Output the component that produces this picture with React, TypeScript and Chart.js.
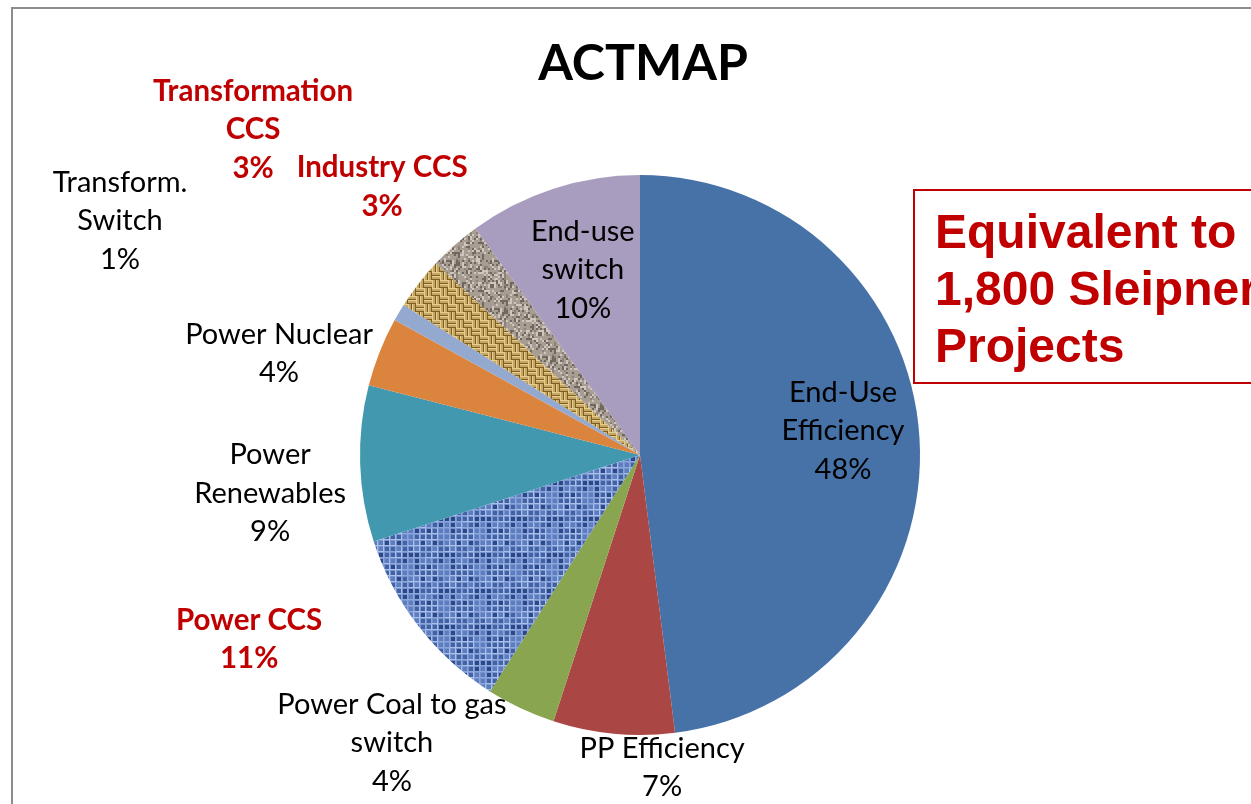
import React, { useEffect, useRef } from "react";
import { Chart, registerables } from "chart.js";

Chart.register(...registerables);

// ---- data ----
const categories = [
  "End-Use Efficiency",
  "PP Efficiency",
  "Power Coal to gas switch",
  "Power CCS",
  "Power Renewables",
  "Power Nuclear",
  "Transform. Switch",
  "Transformation CCS",
  "Industry CCS",
  "End-use switch",
];
const shares = [48, 7, 4, 11, 9, 4, 1, 3, 3, 10];
const labelLines = [
  ["End-Use", "Efficiency"],
  ["PP Efficiency"],
  ["Power Coal to gas", "switch"],
  ["Power CCS"],
  ["Power", "Renewables"],
  ["Power Nuclear"],
  ["Transform.", "Switch"],
  ["Transformation", "CCS"],
  ["Industry CCS"],
  ["End-use", "switch"],
];
const highlighted = [false, false, false, true, false, false, false, true, true, false];
const titleText = "ACTMAP";
const noteLines = ["Equivalent to", "1,800 Sleipner", "Projects"];

// label anchor (center of text block) relative to pie center, in radius units
const labelAnchors: [number, number][] = [
  [0.725, -0.086],
  [0.079, 1.116],
  [-0.886, 1.029],
  [-1.396, 0.659],
  [-1.321, 0.1375],
  [-1.289, -0.3625],
  [-1.857, -0.836],
  [-1.382, -1.161],
  [-0.921, -0.957],
  [-0.204, -0.661],
];

function makeTile(w: number, h: number, draw: (c: CanvasRenderingContext2D) => void): CanvasPattern | string {
  const cv = document.createElement("canvas");
  cv.width = w;
  cv.height = h;
  const c = cv.getContext("2d")!;
  draw(c);
  const p = c.createPattern(cv, "repeat");
  return p || "#888";
}

function hash(x: number, y: number, s: number) {
  const v = Math.sin(x * 12.9898 + y * 78.233 + s * 37.719) * 43758.5453;
  return v - Math.floor(v);
}

function denim() {
  return makeTile(36, 36, (c) => {
    c.fillStyle = "#7893CE";
    c.fillRect(0, 0, 36, 36);
    for (let gx = 0; gx < 6; gx++) {
      for (let gy = 0; gy < 6; gy++) {
        const h = hash(gx, gy, 1);
        c.fillStyle = h < 0.4 ? "#2C4886" : h < 0.75 ? "#4262A3" : "#5D7EBE";
        c.fillRect(gx * 6 + 1, gy * 6 + 1, 4, 4);
        const h2 = hash(gx, gy, 2);
        c.fillStyle = h2 > 0.5 ? "#A9C0EC" : "#8BA6DC";
        c.fillRect(gx * 6, gy * 6 + 5, 6, 1);
        c.fillRect(gx * 6 + 5, gy * 6, 1, 5);
      }
    }
  });
}

function weave() {
  return makeTile(16, 16, (c) => {
    c.fillStyle = "#E6CD90";
    c.fillRect(0, 0, 16, 16);
    for (let bx = 0; bx < 2; bx++) {
      for (let by = 0; by < 2; by++) {
        const x0 = bx * 8;
        const y0 = by * 8;
        const horiz = (bx + by) % 2 === 0;
        c.fillStyle = "#C7A660";
        c.strokeStyle = "#7E5E28";
        c.lineWidth = 1;
        for (let k = 0; k < 2; k++) {
          if (horiz) {
            c.fillRect(x0, y0 + k * 4 + 1, 8, 2);
            c.beginPath();
            c.moveTo(x0, y0 + k * 4 + 3.5);
            c.lineTo(x0 + 8, y0 + k * 4 + 3.5);
            c.stroke();
          } else {
            c.fillRect(x0 + k * 4 + 1, y0, 2, 8);
            c.beginPath();
            c.moveTo(x0 + k * 4 + 3.5, y0);
            c.lineTo(x0 + k * 4 + 3.5, y0 + 8);
            c.stroke();
          }
        }
      }
    }
  });
}

function granite() {
  return makeTile(48, 48, (c) => {
    c.fillStyle = "#A89D92";
    c.fillRect(0, 0, 48, 48);
    for (let x = 0; x < 48; x += 2) {
      for (let y = 0; y < 48; y += 2) {
        const h = hash(x, y, 3);
        if (h < 0.2) {
          c.fillStyle = "#70675E";
          c.fillRect(x, y, 2, 2);
        } else if (h < 0.3) {
          c.fillStyle = "#8C8278";
          c.fillRect(x, y, 2, 2);
        } else if (h > 0.78) {
          c.fillStyle = "#CFC7BD";
          c.fillRect(x, y, 2, 2);
        }
      }
    }
  });
}

const FONT = "Lato, 'Noto Sans', sans-serif";

export default function App() {
  const ref = useRef<HTMLCanvasElement | null>(null);

  useEffect(() => {
    const canvas = ref.current;
    if (!canvas) return;

    const colors: (string | CanvasPattern)[] = [
      "#4672A8",
      "#AA4744",
      "#89A54F",
      denim(),
      "#4198AF",
      "#DB843E",
      "#93A9CF",
      weave(),
      granite(),
      "#A89CBF",
    ];

    const decor = {
      id: "decor",
      afterDraw(chart: any) {
        const ctx: CanvasRenderingContext2D = chart.ctx;
        const arc = chart.getDatasetMeta(0).data[0] as any;
        const cx = arc.x;
        const cy = arc.y;
        const r = arc.outerRadius;
        ctx.save();
        // frame
        ctx.strokeStyle = "#8C8C8C";
        ctx.lineWidth = 2;
        ctx.beginPath();
        ctx.moveTo(12, 820);
        ctx.lineTo(12, 8);
        ctx.lineTo(1260, 8);
        ctx.stroke();

        // title
        ctx.fillStyle = "#000";
        ctx.font = `bold 50px ${FONT}`;
        ctx.textAlign = "center";
        ctx.textBaseline = "middle";
        ctx.fillText(titleText, cx + 3, 64);

        // slice labels
        const lh = 38.5;
        labelLines.forEach((lines, i) => {
          const all = [...lines, `${shares[i]}%`];
          const ax = cx + labelAnchors[i][0] * r;
          const ay = cy + labelAnchors[i][1] * r;
          ctx.font = highlighted[i] ? `bold 29.5px ${FONT}` : `29px ${FONT}`;
          ctx.fillStyle = highlighted[i] ? "#C00000" : "#000";
          const y0 = ay - ((all.length - 1) * lh) / 2;
          all.forEach((t, k) => ctx.fillText(t, ax, y0 + k * lh));
        });

        // note box
        ctx.strokeStyle = "#C00000";
        ctx.lineWidth = 2;
        ctx.strokeRect(914, 190, 400, 193);
        ctx.fillStyle = "#C00000";
        ctx.font = "bold 48px 'Liberation Sans', Arial, sans-serif";
        ctx.textAlign = "left";
        ctx.textBaseline = "alphabetic";
        noteLines.forEach((t, k) => ctx.fillText(t, 935, 248 + k * 57));
        ctx.restore();
      },
    };

    const chart = new Chart(canvas, {
      type: "pie",
      data: {
        labels: categories,
        datasets: [
          {
            data: shares,
            backgroundColor: colors as any,
            borderWidth: 0,
          },
        ],
      },
      options: {
        responsive: false,
        animation: false,
        layout: { padding: { top: 175, bottom: 69, left: 360, right: 331 } },
        plugins: {
          legend: { display: false },
          tooltip: { enabled: false },
          title: { display: false },
        },
      },
      plugins: [decor],
    });
    return () => chart.destroy();
  }, []);

  return (
    <div style={{ position: "absolute", left: 0, top: 0, width: 1251, height: 804, background: "#fff" }}>
      <canvas ref={ref} width={1251} height={804} style={{ display: "block" }} />
    </div>
  );
}
